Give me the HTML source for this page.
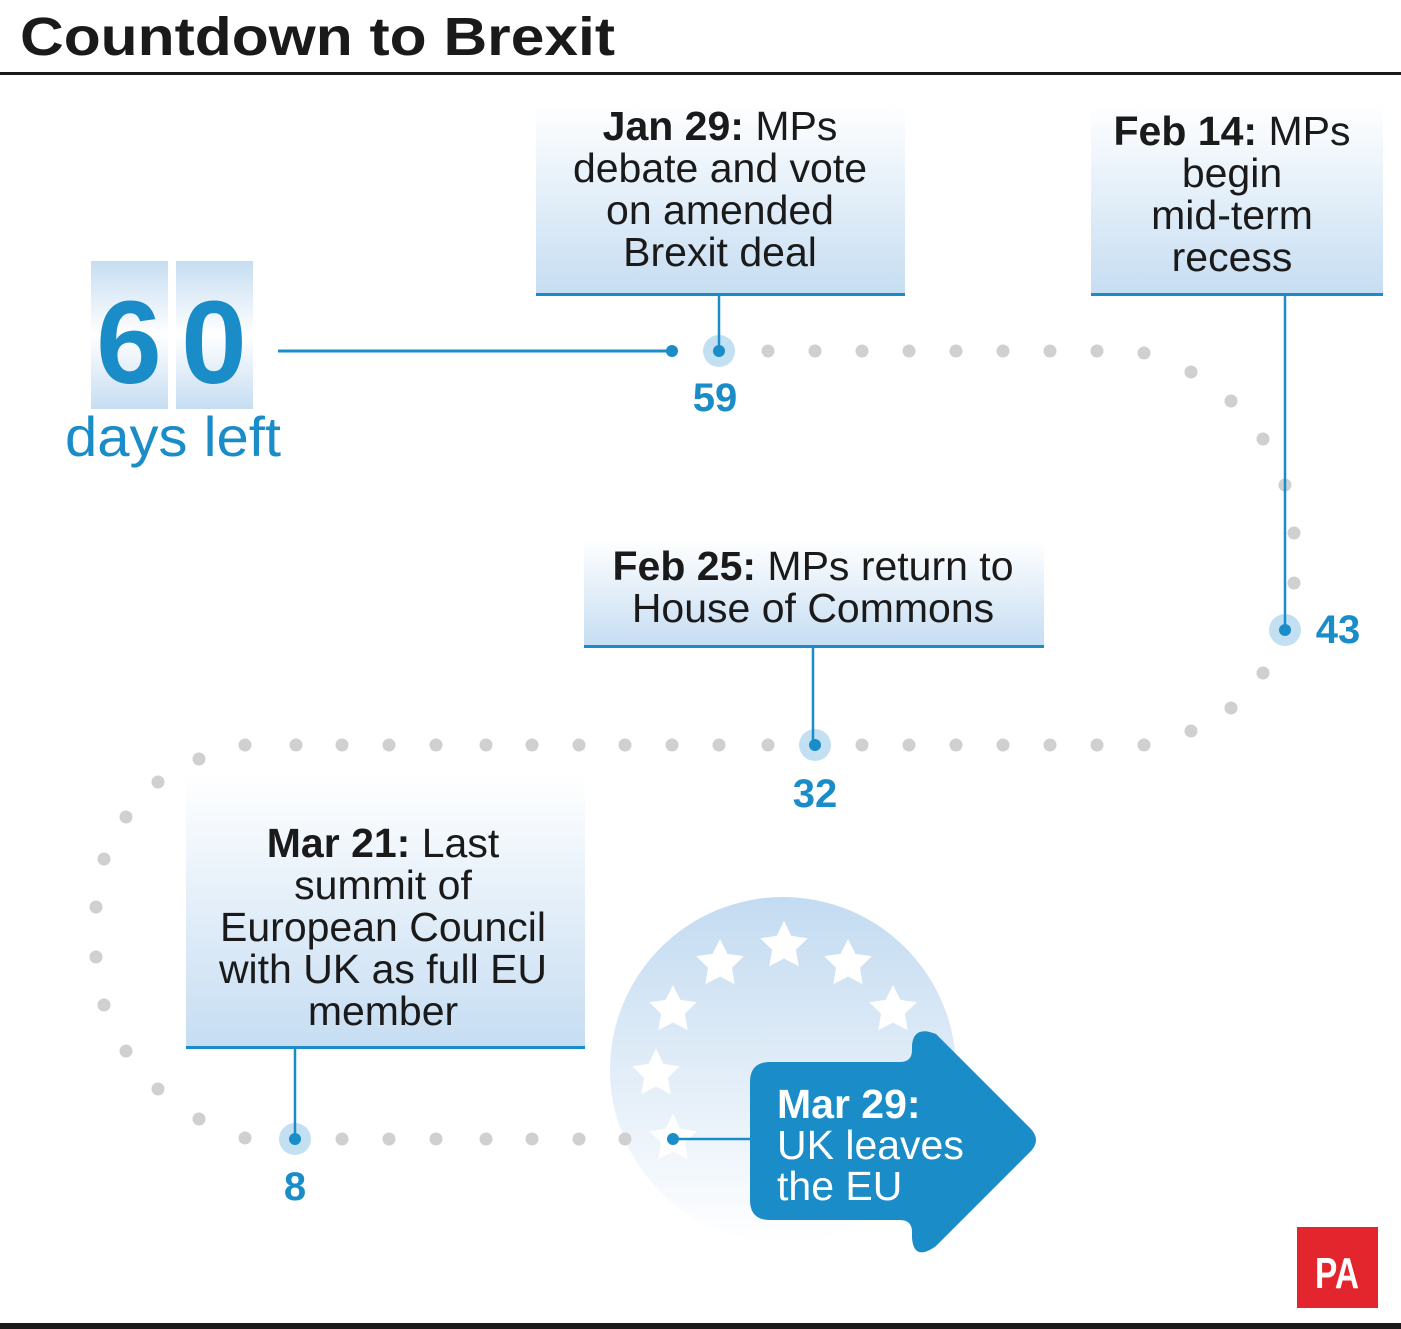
<!DOCTYPE html>
<html><head><meta charset="utf-8"><style>
html,body{margin:0;padding:0;background:#fff}
svg{display:block}
text{font-family:"Liberation Sans",sans-serif}
</style></head><body>
<svg width="1401" height="1329" viewBox="0 0 1401 1329" xmlns="http://www.w3.org/2000/svg">
<defs>
<linearGradient id="bx" x1="0" y1="0" x2="0" y2="1"><stop offset="0" stop-color="#ffffff"/><stop offset="1" stop-color="#c6ddf2"/></linearGradient>
<linearGradient id="dg" x1="0" y1="0" x2="0" y2="1"><stop offset="0" stop-color="#c6ddf2"/><stop offset="0.5" stop-color="#ffffff"/><stop offset="1" stop-color="#c6ddf2"/></linearGradient>
<linearGradient id="cg" x1="0" y1="0" x2="0" y2="1"><stop offset="0" stop-color="#c3dbf1"/><stop offset="1" stop-color="#ffffff"/></linearGradient>
<polygon id="st" points="0,-25 7.4,-10.1 23.8,-7.7 11.9,3.8 14.7,20.2 0,12.5 -14.7,20.2 -11.9,3.8 -23.8,-7.7 -7.4,-10.1" fill="#fff"/>
</defs>
<text x="20" y="55" font-size="54" font-weight="bold" fill="#1a1a1a" textLength="595" lengthAdjust="spacingAndGlyphs">Countdown to Brexit</text>
<rect x="0" y="72" width="1401" height="3" fill="#1a1a1a"/>
<rect x="0" y="1323" width="1401" height="6" fill="#1a1a1a"/>

<rect x="91" y="261" width="77" height="148" fill="url(#dg)"/>
<rect x="176" y="261" width="77" height="148" fill="url(#dg)"/>
<text x="129" y="383" font-size="118" font-weight="bold" fill="#1a8cc8" text-anchor="middle">6</text>
<text x="214" y="383" font-size="118" font-weight="bold" fill="#1a8cc8" text-anchor="middle">0</text>
<text x="173" y="456" font-size="56" fill="#1a8cc8" text-anchor="middle" textLength="216" lengthAdjust="spacingAndGlyphs">days left</text>
<line x1="278" y1="351" x2="672" y2="351" stroke="#1a8cc8" stroke-width="3"/>
<circle cx="672" cy="351" r="6" fill="#1a8cc8"/>

<circle cx="783" cy="1070" r="173" fill="url(#cg)"/>
<use href="#st" x="784" y="946"/><use href="#st" x="720" y="964"/><use href="#st" x="848" y="964"/>
<use href="#st" x="673" y="1010"/><use href="#st" x="893" y="1010"/>
<use href="#st" x="656" y="1074"/><use href="#st" x="673" y="1139"/>

<g fill="#d0d0d0">
<circle cx="768" cy="351" r="6.5"/><circle cx="815" cy="351" r="6.5"/><circle cx="862" cy="351" r="6.5"/><circle cx="909" cy="351" r="6.5"/><circle cx="956" cy="351" r="6.5"/><circle cx="1003" cy="351" r="6.5"/><circle cx="1050" cy="351" r="6.5"/><circle cx="1097" cy="351" r="6.5"/><circle cx="1144" cy="353" r="6.5"/>
<circle cx="1191" cy="372" r="6.5"/><circle cx="1231" cy="401" r="6.5"/><circle cx="1263" cy="439" r="6.5"/><circle cx="1285" cy="485" r="6.5"/><circle cx="1294" cy="533" r="6.5"/><circle cx="1294" cy="583" r="6.5"/>
<circle cx="1263" cy="673" r="6.5"/><circle cx="1231" cy="708" r="6.5"/><circle cx="1191" cy="731" r="6.5"/>
<circle cx="1144" cy="745" r="6.5"/><circle cx="1097" cy="745" r="6.5"/><circle cx="1050" cy="745" r="6.5"/><circle cx="1003" cy="745" r="6.5"/><circle cx="956" cy="745" r="6.5"/><circle cx="909" cy="745" r="6.5"/><circle cx="862" cy="745" r="6.5"/>
<circle cx="768" cy="745" r="6.5"/><circle cx="719" cy="745" r="6.5"/><circle cx="672" cy="745" r="6.5"/><circle cx="625" cy="745" r="6.5"/><circle cx="579" cy="745" r="6.5"/><circle cx="532" cy="745" r="6.5"/><circle cx="486" cy="745" r="6.5"/><circle cx="436" cy="745" r="6.5"/><circle cx="389" cy="745" r="6.5"/><circle cx="342" cy="745" r="6.5"/><circle cx="296" cy="745" r="6.5"/><circle cx="245" cy="745" r="6.5"/>
<circle cx="199" cy="759" r="6.5"/><circle cx="158" cy="782" r="6.5"/><circle cx="126" cy="817" r="6.5"/><circle cx="104" cy="859" r="6.5"/><circle cx="96" cy="907" r="6.5"/><circle cx="96" cy="957" r="6.5"/><circle cx="104" cy="1005" r="6.5"/><circle cx="126" cy="1051" r="6.5"/><circle cx="158" cy="1089" r="6.5"/><circle cx="199" cy="1119" r="6.5"/><circle cx="245" cy="1138" r="6.5"/>
<circle cx="342" cy="1139" r="6.5"/><circle cx="389" cy="1139" r="6.5"/><circle cx="436" cy="1139" r="6.5"/><circle cx="486" cy="1139" r="6.5"/><circle cx="532" cy="1139" r="6.5"/><circle cx="579" cy="1139" r="6.5"/><circle cx="625" cy="1139" r="6.5"/>
</g>

<g>
<circle cx="719" cy="351" r="16" fill="#c3e0f3"/><circle cx="719" cy="351" r="6" fill="#1a8cc8"/>
<circle cx="1285" cy="630" r="16" fill="#c3e0f3"/><circle cx="1285" cy="630" r="6" fill="#1a8cc8"/>
<circle cx="815" cy="745" r="16" fill="#c3e0f3"/><circle cx="815" cy="745" r="6" fill="#1a8cc8"/>
<circle cx="295" cy="1139" r="16" fill="#c3e0f3"/><circle cx="295" cy="1139" r="6" fill="#1a8cc8"/>
</g>
<g stroke="#1a8cc8" stroke-width="2.5">
<line x1="719" y1="296" x2="719" y2="351"/>
<line x1="1285" y1="296" x2="1285" y2="630"/>
<line x1="813" y1="648" x2="813" y2="745"/>
<line x1="295" y1="1049" x2="295" y2="1139"/>
<line x1="673" y1="1139" x2="760" y2="1139"/>
</g>
<circle cx="673" cy="1139" r="6" fill="#1a8cc8"/>
<g font-size="40" font-weight="bold" fill="#1a8cc8" text-anchor="middle">
<text x="715" y="411">59</text>
<text x="1338" y="643">43</text>
<text x="815" y="807">32</text>
<text x="295" y="1200">8</text>
</g>

<rect x="536" y="105" width="369" height="190" fill="url(#bx)"/><rect x="536" y="293" width="369" height="3" fill="#1a8cc8"/>
<rect x="1091" y="105" width="292" height="190" fill="url(#bx)"/><rect x="1091" y="293" width="292" height="3" fill="#1a8cc8"/>
<rect x="584" y="540" width="460" height="106" fill="url(#bx)"/><rect x="584" y="645" width="460" height="3" fill="#1a8cc8"/>
<rect x="186" y="775" width="399" height="272" fill="url(#bx)"/><rect x="186" y="1046" width="399" height="3" fill="#1a8cc8"/>

<g font-size="41" fill="#1a1a1a" text-anchor="middle">
<text x="720" y="140"><tspan font-weight="bold">Jan 29:</tspan> MPs</text>
<text x="720" y="182">debate and vote</text>
<text x="720" y="224">on amended</text>
<text x="720" y="266">Brexit deal</text>
<text x="1232" y="145"><tspan font-weight="bold">Feb 14:</tspan> MPs</text>
<text x="1232" y="187">begin</text>
<text x="1232" y="229">mid-term</text>
<text x="1232" y="271">recess</text>
<text x="813" y="580"><tspan font-weight="bold">Feb 25:</tspan> MPs return to</text>
<text x="813" y="622">House of Commons</text>
<text x="383" y="857"><tspan font-weight="bold">Mar 21:</tspan> Last</text>
<text x="383" y="899">summit of</text>
<text x="383" y="941">European Council</text>
<text x="383" y="983">with UK as full EU</text>
<text x="383" y="1025">member</text>
</g>

<path d="M770,1062 L900,1062 Q912,1062 912,1050 L912,1045 Q914,1025 936,1034 L1030,1128 Q1042,1140 1030,1152 L936,1246 Q914,1262 912,1238 L912,1232 Q912,1220 900,1220 L770,1220 Q750,1220 750,1200 L750,1082 Q750,1062 770,1062 Z" fill="#1a8cc8"/>
<g font-size="41" fill="#fff">
<text x="777" y="1118" font-weight="bold">Mar 29:</text>
<text x="777" y="1159">UK leaves</text>
<text x="777" y="1200">the EU</text>
</g>

<rect x="1297" y="1227" width="81" height="81" fill="#e3262d"/>
<text x="1337" y="1288" font-size="44" font-weight="bold" fill="#fff" text-anchor="middle" textLength="44" lengthAdjust="spacingAndGlyphs">PA</text>
</svg>
</body></html>
